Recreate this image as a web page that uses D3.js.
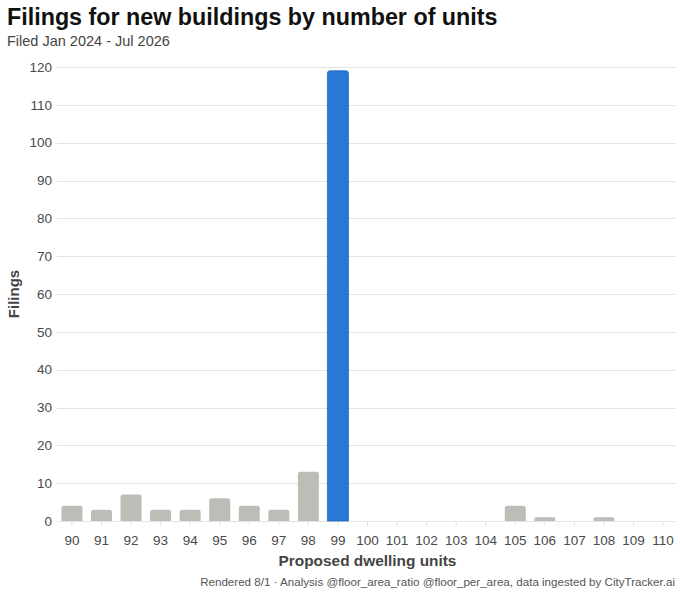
<!DOCTYPE html>
<html lang="en">
<head>
  <meta charset="UTF-8">
  <title>Filings for new buildings by number of units</title>
  <script src="https://d3js.org/d3.v7.min.js"></script>
  <style>
    body { margin: 0; background: #fff; }
    svg { display: block; font-family: "Liberation Sans", Arial, Helvetica, sans-serif; }
  </style>
</head>
<body>
  <svg id="svg" width="680" height="593"></svg>
  <script>
    // data
    var units = ["90", "91", "92", "93", "94", "95", "96", "97", "98", "99", "100",
      "101", "102", "103", "104", "105", "106", "107", "108", "109", "110"];
    var filings = [4, 3, 7, 3, 3, 6, 4, 3, 13, 119, 0, 0, 0, 0, 0, 4, 1, 0, 1, 0, 0];
    var yTicks = [0, 10, 20, 30, 40, 50, 60, 70, 80, 90, 100, 110, 120];
    var highlight = "99";

    var svg = d3.select("svg"),
      margin = { top: 67, right: 2, bottom: 72, left: 57 },
      width = +svg.attr("width"),
      height = +svg.attr("height");

    var x = d3.scaleBand()
      .domain(units)
      .range([margin.left, width - margin.right])
      .paddingInner(0.29)
      .paddingOuter(0.15);

    var y = d3.scaleLinear()
      .domain([0, 120])
      .range([height - margin.bottom, margin.top]);

    // gridlines + y labels
    var yAxis = svg.append("g");
    yAxis.selectAll("line")
      .data(yTicks)
      .enter().append("line")
      .attr("x1", margin.left)
      .attr("x2", width - 4)
      .attr("y1", function (d) { return Math.round(y(d)) + 0.5; })
      .attr("y2", function (d) { return Math.round(y(d)) + 0.5; })
      .attr("stroke", "#e4e4e4");
    yAxis.selectAll("text")
      .data(yTicks)
      .enter().append("text")
      .attr("x", margin.left - 5)
      .attr("y", y)
      .attr("dy", "0.35em")
      .attr("text-anchor", "end")
      .attr("font-size", 13.5)
      .attr("fill", "#4a4a4a")
      .text(function (d) { return d; });

    // small tick marks under baseline
    svg.append("g").selectAll("line")
      .data(units)
      .enter().append("line")
      .attr("x1", function (d) { return x(d) + x.bandwidth() / 2; })
      .attr("x2", function (d) { return x(d) + x.bandwidth() / 2; })
      .attr("y1", y(0) + 1)
      .attr("y2", y(0) + 5)
      .attr("stroke", "#e4e4e4");

    // bars, rounded on top
    function barPath(d, i) {
      var x0 = x(d), w = x.bandwidth(), y0 = y(0), y1 = y(filings[i]);
      var h = y0 - y1;
      if (h <= 0) return "";
      var r = Math.min(2.5, h / 2, w / 2);
      return "M" + x0 + "," + y0 +
        "V" + (y1 + r) +
        "Q" + x0 + "," + y1 + " " + (x0 + r) + "," + y1 +
        "H" + (x0 + w - r) +
        "Q" + (x0 + w) + "," + y1 + " " + (x0 + w) + "," + (y1 + r) +
        "V" + y0 + "Z";
    }

    svg.append("g").selectAll("path")
      .data(units)
      .enter().append("path")
      .attr("d", barPath)
      .attr("fill", function (d) { return d === highlight ? "#2a78d6" : "#bdbcb7"; })
      .attr("stroke", function (d) { return d === highlight ? "#1f66bd" : "none"; })
      .attr("stroke-width", 0.8);

    // x labels
    svg.append("g").selectAll("text")
      .data(units)
      .enter().append("text")
      .attr("x", function (d) { return x(d) + x.bandwidth() / 2; })
      .attr("y", y(0) + 24)
      .attr("text-anchor", "middle")
      .attr("font-size", 13.5)
      .attr("fill", "#4a4a4a")
      .text(function (d) { return d; });

    // titles
    svg.append("text")
      .attr("x", 7).attr("y", 25)
      .attr("font-size", 23.3)
      .attr("font-weight", "bold")
      .attr("fill", "#111")
      .text("Filings for new buildings by number of units");

    svg.append("text")
      .attr("x", 7).attr("y", 46)
      .attr("font-size", 14.5)
      .attr("fill", "#444")
      .text("Filed Jan 2024 - Jul 2026");

    svg.append("text")
      .attr("transform", "translate(19," + (margin.top + (height - margin.bottom - margin.top) / 2) + ")rotate(-90)")
      .attr("text-anchor", "middle")
      .attr("font-size", 15)
      .attr("font-weight", "bold")
      .attr("fill", "#444")
      .text("Filings");

    svg.append("text")
      .attr("x", (margin.left + width - margin.right) / 2)
      .attr("y", 566)
      .attr("text-anchor", "middle")
      .attr("font-size", 15.4)
      .attr("font-weight", "bold")
      .attr("fill", "#444")
      .text("Proposed dwelling units");

    svg.append("text")
      .attr("x", 675)
      .attr("y", 586)
      .attr("text-anchor", "end")
      .attr("font-size", 11.6)
      .attr("fill", "#555")
      .text("Rendered 8/1 · Analysis @floor_area_ratio @floor_per_area, data ingested by CityTracker.ai");
  </script>
</body>
</html>
